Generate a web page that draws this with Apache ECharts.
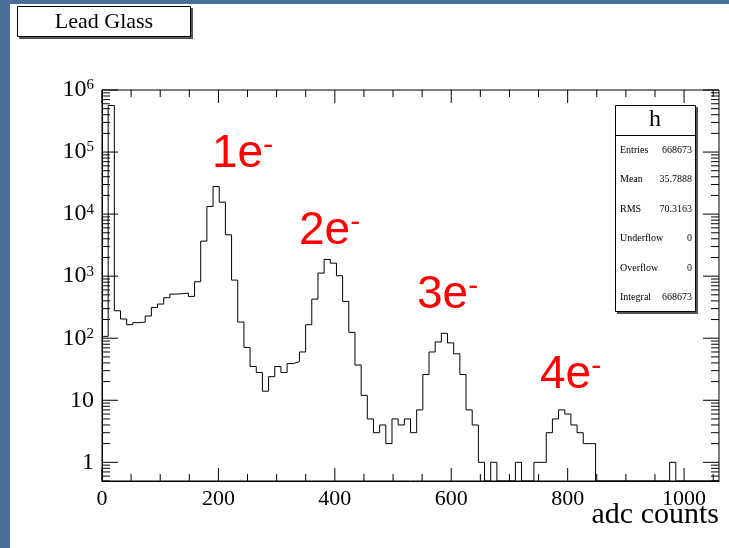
<!DOCTYPE html>
<html>
<head>
<meta charset="utf-8">
<script src="https://cdn.jsdelivr.net/npm/echarts@6/dist/echarts.min.js"></script>
<style>
  html, body { margin: 0; padding: 0; background: #fff; }
  #chart { width: 729px; height: 548px; }
</style>
</head>
<body>
<div id="chart"></div>
<script>
// Lead glass ADC spectrum: 100 bins from 0 to 1060 adc counts
const binLow = 0;
const binWidth = 10.6;
const counts = [
  107, 561000, 277, 204, 165, 178, 182, 228, 313, 355,
  449, 514, 521, 534, 472, 813, 3670, 13270, 27860, 15590,
  4640, 864, 182, 71, 35, 28, 14, 24, 35, 28,
  39, 42, 60, 165, 427, 1120, 1860, 1620, 1015, 392,
  124, 37, 12, 5, 3, 4, 2, 5, 4, 5,
  3, 7, 26, 60, 87, 120, 84, 56, 26, 7,
  4, 1, 0, 1, 0, 0, 0, 1, 0, 0,
  1, 1, 3, 5, 7, 6, 4, 3, 2, 2,
  0, 0, 0, 0, 0, 0, 0, 0, 0, 0,
  0, 0, 1, 0, 0, 0, 0, 0, 0, 0
];
const xTicks = [0, 200, 400, 600, 800, 1000];
const peakNames = ['1e', '2e', '3e', '4e'];
const statNames = ['Entries', 'Mean', 'RMS', 'Underflow', 'Overflow', 'Integral'];
const statValues = ['668673', '35.7888', '70.3163', '0', '0', '668673'];
const histName = 'h';
const titleText = 'Lead Glass';
const xTitle = 'adc counts';

const xMin = binLow, xMax = binLow + binWidth * counts.length;
const yMin = 0.5, yMax = 1e6;

// step outline: one point at each bin's low edge, plus the closing edge
const outline = counts.map((c, i) => [binLow + i * binWidth, c > 0 ? c : yMin]);
outline.push([xMax, counts[counts.length - 1] > 0 ? counts[counts.length - 1] : yMin]);

const serif = '"Liberation Serif", "Times New Roman", serif';
const sans = '"Liberation Sans", Arial, sans-serif';

// tick marks on all four sides of the frame
function renderTicks(params, api) {
  const children = [];
  const p0 = api.coord([xMin, yMin]);
  const p1 = api.coord([xMax, yMax]);
  const left = p0[0], right = p1[0], bottom = p0[1], top = p1[1];
  const seg = (x1, y1, x2, y2) => children.push({
    type: 'line', shape: { x1, y1, x2, y2 },
    style: { stroke: '#000', lineWidth: 1 }
  });
  for (let x = xMin; x < xMax; x += 50) {
    const px = api.coord([x, 1])[0];
    const len = (x % 200 === 0) ? 13 : 7;
    seg(px, bottom, px, bottom - len);
    seg(px, top, px, top + len);
  }
  for (let e = -1; e <= 6; e++) {
    for (let m = 1; m <= 9; m++) {
      const v = m * Math.pow(10, e);
      if (v < yMin || v > yMax) continue;
      const py = api.coord([xMin, v])[1];
      const len = (m === 1) ? 16 : 8;
      seg(left, py, left + len, py);
      seg(right, py, right - len, py);
    }
  }
  return { type: 'group', children };
}

const chart = echarts.init(document.getElementById('chart'), null, { renderer: 'canvas' });

const graphics = [
  // page edges
  { type: 'rect', shape: { x: 0, y: 0, width: 10, height: 548 }, style: { fill: '#4a6f9b' }, silent: true },
  { type: 'rect', shape: { x: 0, y: 0, width: 729, height: 4 }, style: { fill: '#4a6f9b' }, silent: true },
  // title box
  { type: 'rect', shape: { x: 19, y: 8, width: 174, height: 31 }, style: { fill: '#555' }, silent: true },
  { type: 'rect', shape: { x: 17.5, y: 6.5, width: 173, height: 30 }, style: { fill: '#fff', stroke: '#000', lineWidth: 1 }, silent: true },
  { type: 'text', x: 104, y: 22, style: { text: titleText, font: '22px ' + serif, fill: '#000', align: 'center', verticalAlign: 'middle' }, silent: true },
  // statistics box
  { type: 'rect', shape: { x: 617, y: 107, width: 81, height: 207 }, style: { fill: '#555' }, silent: true },
  { type: 'rect', shape: { x: 615.5, y: 105.5, width: 80, height: 206 }, style: { fill: '#fff', stroke: '#000', lineWidth: 1 }, silent: true },
  { type: 'line', shape: { x1: 615.5, y1: 135.5, x2: 695.5, y2: 135.5 }, style: { stroke: '#000', lineWidth: 1 }, silent: true },
  { type: 'text', x: 655, y: 120, style: { text: histName, font: '24px ' + serif, fill: '#000', align: 'center', verticalAlign: 'middle' }, silent: true }
];
statNames.forEach((n, i) => {
  const y = 150 + i * 29.5;
  graphics.push({ type: 'text', x: 620, y, style: { text: n, font: '10px ' + serif, fill: '#000', align: 'left', verticalAlign: 'middle' }, silent: true });
  graphics.push({ type: 'text', x: 692, y, style: { text: statValues[i], font: '10px ' + serif, fill: '#000', align: 'right', verticalAlign: 'middle' }, silent: true });
});
// peak annotations
const peakPos = [[212, 154], [299, 231], [417, 295], [540, 375]];
peakNames.forEach((t, i) => {
  graphics.push({
    type: 'text', x: peakPos[i][0], y: peakPos[i][1],
    style: { text: t + '{s|-}', font: '46px ' + sans, fill: '#ff0000', align: 'left', verticalAlign: 'middle',
      rich: { s: { font: '30px ' + sans, fill: '#ff0000', verticalAlign: 'top', lineHeight: 20 } } },
    silent: true
  });
});
// axis title
graphics.push({ type: 'text', x: 719, y: 530, style: { text: xTitle, font: '30px ' + serif, fill: '#000', align: 'right', verticalAlign: 'bottom' }, silent: true });

chart.setOption({
  animation: false,
  backgroundColor: '#fff',
  grid: { left: 102, right: 10, top: 90, bottom: 67, show: true, borderColor: '#000', borderWidth: 1, backgroundColor: 'transparent' },
  xAxis: {
    type: 'value', min: xMin, max: xMax, interval: 200,
    axisLine: { show: true, lineStyle: { color: '#000', width: 1 } },
    axisTick: { show: false }, splitLine: { show: false },
    axisLabel: {
      margin: 7, color: '#000', fontFamily: serif, fontSize: 22, showMaxLabel: false,
      formatter: v => xTicks.indexOf(v) >= 0 ? String(v) : ''
    }
  },
  yAxis: {
    type: 'log', logBase: 10, min: yMin, max: yMax,
    axisLine: { show: true, lineStyle: { color: '#000', width: 1 } },
    axisTick: { show: false }, splitLine: { show: false },
    axisLabel: {
      margin: 8, color: '#000', fontFamily: serif, fontSize: 24, showMinLabel: false,
      formatter: v => {
        const e = Math.round(Math.log10(v));
        if (Math.abs(Math.log10(v) - e) > 1e-6) return '';
        if (e === 0) return '1';
        if (e === 1) return '10';
        return '10{s|' + e + '}';
      },
      rich: { s: { fontFamily: serif, fontSize: 15, color: '#000', verticalAlign: 'top', lineHeight: 14 } }
    }
  },
  graphic: graphics,
  series: [
    {
      type: 'line', data: outline, step: 'end', showSymbol: false, symbol: 'none',
      lineStyle: { color: '#000', width: 1 }, silent: true, clip: true, z: 3
    },
    {
      type: 'custom', renderItem: renderTicks, data: [[xMin, 1]], silent: true, clip: false, z: 4
    }
  ]
});
</script>
</body>
</html>
